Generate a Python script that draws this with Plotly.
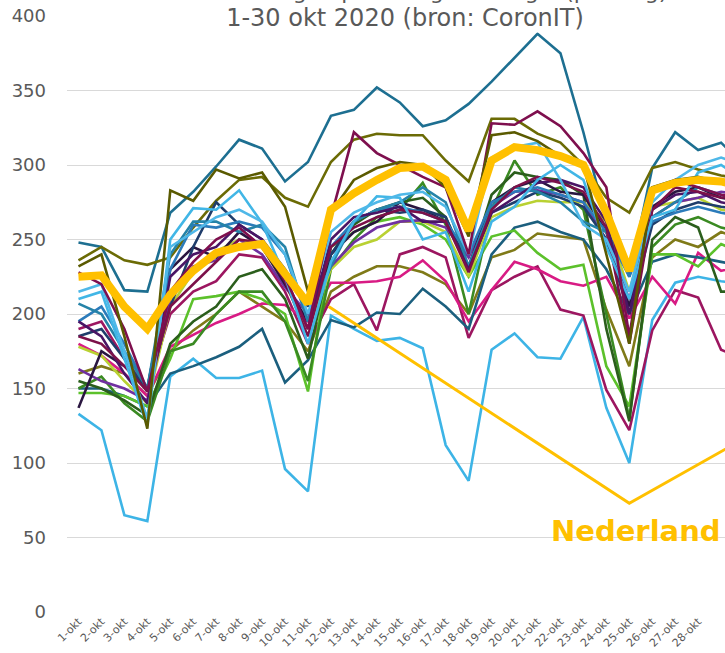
import plotly.graph_objects as go

days = [f"{d}-okt" for d in range(1, 31)]
x_idx = list(range(len(days)))

# regional series
regio_teal_top = [248,245,216,215,268,282,299,317,311,289,302,333,337,352,342,326,330,341,356,372,388,375,322,262,225,298,322,310,315,300]
regio_olive_1 = [236,245,236,233,238,258,276,290,292,278,272,302,317,321,320,320,303,289,331,331,321,315,300,278,268,298,302,297,293,290]
regio_olive_2 = [232,240,185,123,283,276,297,291,295,272,215,268,290,298,302,300,285,252,320,322,316,306,300,240,180,285,290,292,288,285]
regio_maroon = [228,220,190,148,215,235,250,258,245,225,190,265,322,308,300,292,285,240,328,327,336,326,308,285,185,282,290,285,280,278]
regio_navy_dark = [137,175,165,150,230,245,238,255,245,220,195,240,255,262,275,270,262,232,275,285,290,282,280,255,205,272,282,285,278,275]
regio_violet = [163,155,150,142,210,232,236,250,240,218,200,232,248,258,262,263,258,238,272,282,283,280,275,250,210,265,275,278,282,280]
regio_magenta = [180,172,160,145,178,186,194,200,207,206,195,221,221,222,225,236,222,195,216,235,230,222,219,225,197,225,207,241,229,232]
regio_lightblue_low = [133,122,65,61,158,170,157,157,162,96,81,199,190,182,184,177,112,88,176,187,171,170,198,137,100,196,221,225,222,220]
regio_lightblue_high = [210,215,170,125,250,271,270,283,261,225,180,235,262,279,278,250,255,215,262,272,290,300,290,245,210,265,270,295,300,290]
regio_green = [147,147,145,138,170,210,212,215,210,200,148,245,255,262,265,260,250,225,252,256,241,230,233,165,138,240,240,232,247,240]
regio_green_dark = [150,158,140,128,175,180,200,215,215,195,155,230,250,265,270,288,260,200,270,303,280,285,270,200,130,245,260,265,258,255]
regio_green_deep = [155,150,142,132,180,195,205,225,230,210,170,240,260,270,275,278,265,230,280,295,292,290,280,190,128,250,265,258,215,215]
regio_yellowgreen = [178,172,155,140,205,228,242,250,245,220,190,230,245,250,262,262,255,225,265,272,276,275,275,262,215,272,275,278,270,268]
regio_blue = [195,205,180,150,230,260,258,262,258,240,195,245,262,270,272,268,262,240,275,282,285,280,275,255,225,262,268,272,268,265]
regio_navy = [185,190,170,148,205,245,275,260,250,230,205,240,262,270,268,270,265,230,268,275,282,278,272,250,200,260,270,275,272,270]
regio_teal_low = [150,150,145,138,160,165,171,178,190,154,169,196,191,201,200,217,205,190,240,258,262,255,250,230,200,235,240,238,235,232]
regio_plum = [190,195,170,150,200,215,222,240,238,215,180,210,220,189,240,245,238,184,216,225,232,203,199,149,122,189,216,211,176,170]
regio_crimson = [185,180,165,148,205,220,235,250,248,222,185,245,258,265,270,268,262,228,270,285,292,288,282,258,180,270,285,282,278,280]
regio_lightblue_3 = [215,220,175,130,245,255,265,270,262,240,200,255,268,275,280,282,272,240,305,312,315,290,260,250,215,275,290,300,305,300]
regio_teal_mid = [207,200,175,150,240,262,262,255,260,245,195,232,262,270,275,285,275,232,272,285,282,275,262,255,230,265,275,285,280,275]
regio_purple = [195,185,160,140,225,240,245,260,250,225,190,250,265,268,272,262,262,230,268,278,288,290,285,262,200,270,280,282,275,272]
regio_olive_low = [160,165,160,145,175,189,200,215,205,195,175,215,225,232,232,228,220,200,238,243,254,252,250,203,165,238,250,245,255,250]

nederland = [225,226,205,190,213,229,241,245,247,228,207,270,281,290,298,299,290,256,303,312,310,306,300,268,229,283,288,290,289,285]

callout_x = [10.9, 24, 30]
callout_y = [205, 73, 125]

y_ticks = [0, 50, 100, 150, 200, 250, 300, 350, 400]

series = [
    (regio_teal_top, "#1d6f91"),
    (regio_olive_1, "#6b6b05"),
    (regio_olive_low, "#7f7a18"),
    (regio_lightblue_low, "#3db4e6"),
    (regio_plum, "#9c1660"),
    (regio_magenta, "#d81b84"),
    (regio_teal_low, "#1b5f7e"),
    (regio_green, "#5cc12b"),
    (regio_green_dark, "#3a8a22"),
    (regio_green_deep, "#2b5e1c"),
    (regio_yellowgreen, "#b9d132"),
    (regio_violet, "#7030a0"),
    (regio_navy_dark, "#2a1640"),
    (regio_navy, "#1f3d6b"),
    (regio_blue, "#2b7bba"),
    (regio_teal_mid, "#2583a8"),
    (regio_purple, "#4a1565"),
    (regio_crimson, "#7b1049"),
    (regio_lightblue_high, "#41b6e6"),
    (regio_lightblue_3, "#4fb8e8"),
    (regio_maroon, "#7e0f4e"),
    (regio_olive_2, "#5a5a00"),
]

fig = go.Figure()
for i, (vals, col) in enumerate(series):
    fig.add_trace(go.Scatter(x=x_idx, y=vals, mode="lines", name=f"Regio {i+1}",
                             line=dict(color=col, width=2.6), hoverinfo="skip"))

fig.add_trace(go.Scatter(x=x_idx, y=nederland, mode="lines", name="Nederland",
                         line=dict(color="#FFC000", width=8)))
fig.add_trace(go.Scatter(x=callout_x, y=callout_y, mode="lines", showlegend=False,
                         line=dict(color="#FFC000", width=3), hoverinfo="skip"))

fig.update_layout(
    width=725, height=653,
    margin=dict(l=67, r=0, t=16, b=41),
    paper_bgcolor="white", plot_bgcolor="white",
    showlegend=False,
    font=dict(family="DejaVu Sans", color="#595959"),
    xaxis=dict(range=[-0.5, 28.17], tickmode="array", tickvals=x_idx, ticktext=days,
               tickangle=-45, tickfont=dict(size=11, color="#595959"),
               showgrid=False, zeroline=False, showline=False, ticks=""),
    yaxis=dict(range=[0, 400], tickvals=y_ticks, tickfont=dict(size=18, color="#595959"),
               showgrid=True, gridcolor="#d9d9d9", gridwidth=1, zeroline=False,
               ticks="", ticklabelstandoff=20),
    annotations=[
        dict(text="1-30 okt 2020 (bron: CoronIT)", xref="paper", yref="paper",
             x=(405 - 67) / 658, y=(612 - 18) / 596, xanchor="center", yanchor="middle",
             showarrow=False, font=dict(size=24, color="#595959"),
             bgcolor="white", width=548, borderpad=0),
        dict(text="Aantal meldingen per veiligheidsregio (per dag)", xref="paper", yref="paper",
             x=(403 - 67) / 658, y=(612 + 9) / 596, xanchor="center", yanchor="middle",
             showarrow=False, font=dict(size=22, color="#595959")),
        dict(text="<b>Nederland</b>", xref="paper", yref="paper",
             x=(636 - 67) / 658, y=(612 - 531) / 596, xanchor="center", yanchor="middle",
             showarrow=False, font=dict(size=29, color="#FFC000")),
    ],
)

fig.write_html("out.html", config={"displayModeBar": False},
               post_script="document.body.style.margin='0';")
